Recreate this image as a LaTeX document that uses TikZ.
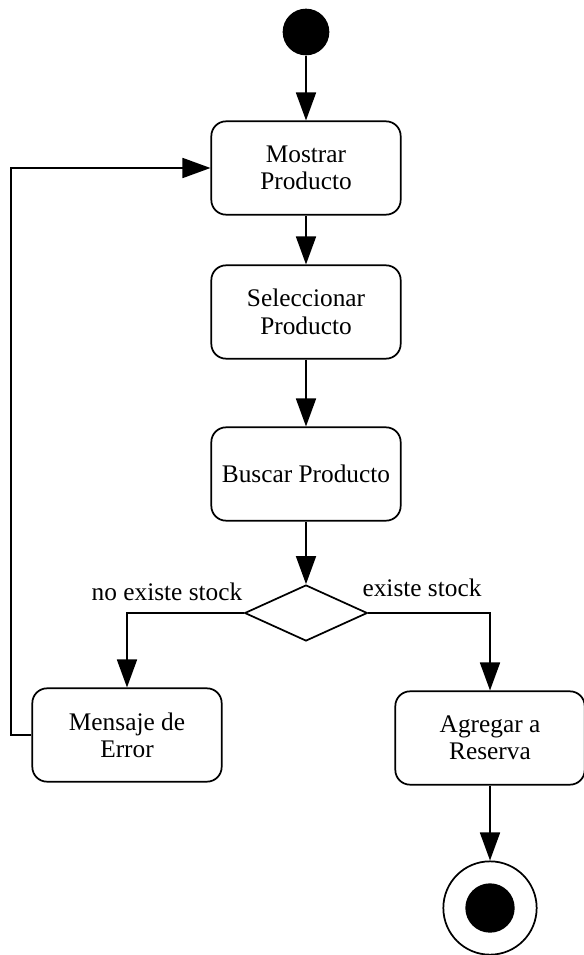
\documentclass[tikz,border=0pt]{standalone}
\usepackage{fontspec}
\setmainfont{Liberation Serif}
\usetikzlibrary{arrows.meta,shapes.geometric}

\tikzset{
  accion/.style={draw, line width=1.3pt, rounded corners=11pt, minimum width=142pt,
    minimum height=70pt, align=center, font=\fontsize{19}{20.5}\selectfont},
  inicio/.style={circle, fill=black, minimum size=35pt, inner sep=0pt},
  fin/.style={circle, draw, line width=1.3pt, minimum size=70pt, inner sep=0pt,
    path picture={\fill (path picture bounding box.center) circle (18.5pt);}},
  decision/.style={diamond, draw, line width=1.3pt, minimum width=92pt,
    minimum height=42pt, inner sep=0pt, aspect=2.2},
  flecha/.style={line width=1.3pt, -{Triangle[length=21pt,width=15pt]}},
  etiqueta/.style={font=\fontsize{19}{20.5}\selectfont}
}

\begin{document}
\begin{tikzpicture}[x=0.75pt,y=-0.75pt]
\useasboundingbox (0,0) rectangle (584,955);

\node[inicio] (ini) at (306,32) {};
\node[accion] (mostrar) at (306,168) {Mostrar\\Producto};
\node[accion] (seleccionar) at (306,312) {Seleccionar\\Producto};
\node[accion] (buscar) at (306,474) {Buscar Producto};
\node[decision] (cond) at (306,613) {};
\node[accion] (mensaje) at (127,735) {Mensaje de\\Error};
\node[accion] (agregar) at (490,738) {Agregar a\\Reserva};
\node[fin] (final) at (490,908) {};

\node[etiqueta] (noexiste) at (167,592) {no existe stock};
\node[etiqueta] (existe) at (422,588) {existe stock};

\coordinate (retorno) at (11,735);

\draw[flecha] (ini) -- (mostrar);
\draw[flecha] (mostrar) -- (seleccionar);
\draw[flecha] (seleccionar) -- (buscar);
\draw[flecha] (buscar) -- (cond);
\draw[flecha] (cond.west) -| (mensaje);
\draw[flecha] (cond.east) -| (agregar);
\draw[flecha] (mensaje.west) -- (retorno) |- (mostrar.west);
\draw[flecha] (agregar) -- (final);

\end{tikzpicture}
\end{document}
